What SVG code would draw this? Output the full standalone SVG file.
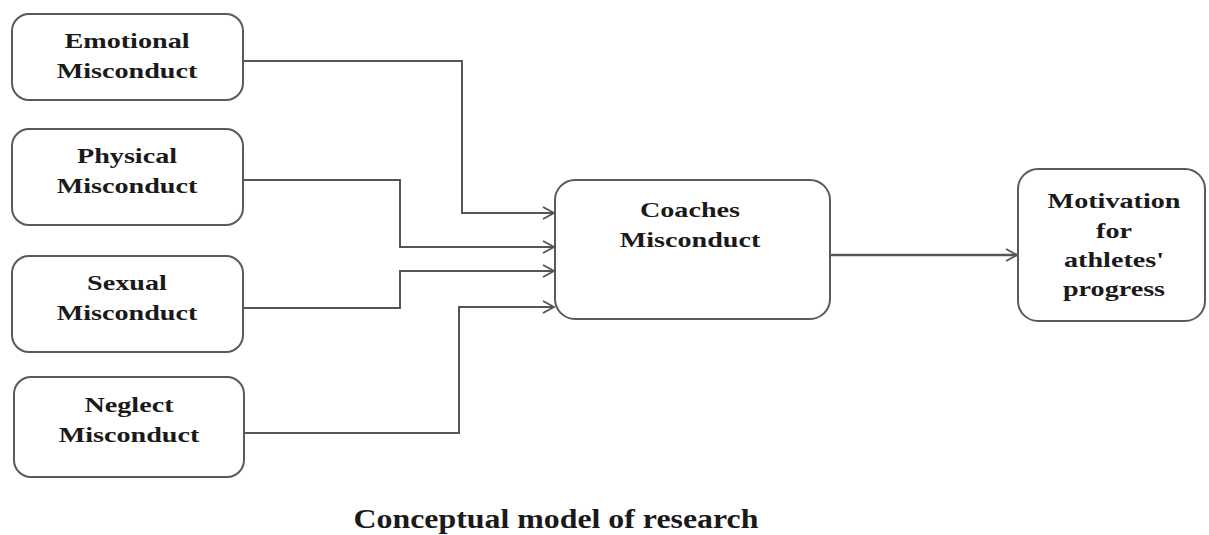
<svg xmlns="http://www.w3.org/2000/svg" width="1209" height="535" viewBox="0 0 1209 535">
<style>
.box{fill:#fff;stroke:#5a5a5a;stroke-width:2}
.lbl{font-family:"Liberation Serif","Times New Roman",serif;font-weight:bold;font-size:22px;fill:#1a1a1a;text-anchor:middle}
.title{font-family:"Liberation Serif","Times New Roman",serif;font-weight:bold;font-size:27px;fill:#1a1a1a;text-anchor:middle}
.con{fill:none;stroke:#555;stroke-width:2}
</style>
<defs>
<marker id="arr" markerWidth="14" markerHeight="14" refX="12" refY="7" orient="auto" markerUnits="userSpaceOnUse">
<path d="M1,1 L12,7 L1,13" fill="none" stroke="#555" stroke-width="1.8"/>
</marker>
</defs>
<rect width="1209" height="535" fill="#fff"/>
<g id="connectors">
<path class="con" d="M243,61 H462 V213 H554" marker-end="url(#arr)"/>
<path class="con" d="M243,180 H400 V247 H554" marker-end="url(#arr)"/>
<path class="con" d="M243,308 H400 V271 H554" marker-end="url(#arr)"/>
<path class="con" d="M244,433 H459 V307 H554" marker-end="url(#arr)"/>
<path class="con" d="M830,255 H1017" marker-end="url(#arr)" style="stroke-width:2.6"/>
</g>
<g id="emotional">
<rect class="box" x="12" y="14" width="231" height="86" rx="17"/>
<text class="lbl" transform="translate(127,48) scale(1.28,1)">Emotional</text>
<text class="lbl" transform="translate(127,78) scale(1.28,1)">Misconduct</text>
</g>
<g id="physical">
<rect class="box" x="12" y="129" width="231" height="96" rx="17"/>
<text class="lbl" transform="translate(127,163) scale(1.28,1)">Physical</text>
<text class="lbl" transform="translate(127,193) scale(1.28,1)">Misconduct</text>
</g>
<g id="sexual">
<rect class="box" x="12" y="256" width="231" height="96" rx="17"/>
<text class="lbl" transform="translate(127,290) scale(1.28,1)">Sexual</text>
<text class="lbl" transform="translate(127,320) scale(1.28,1)">Misconduct</text>
</g>
<g id="neglect">
<rect class="box" x="14" y="377" width="230" height="100" rx="17"/>
<text class="lbl" transform="translate(129,412) scale(1.28,1)">Neglect</text>
<text class="lbl" transform="translate(129,442) scale(1.28,1)">Misconduct</text>
</g>
<g id="coaches">
<rect class="box" x="555" y="180" width="275" height="139" rx="20"/>
<text class="lbl" transform="translate(690,217) scale(1.28,1)">Coaches</text>
<text class="lbl" transform="translate(690,247) scale(1.28,1)">Misconduct</text>
</g>
<g id="motivation">
<rect class="box" x="1018" y="169" width="187" height="152" rx="20"/>
<text class="lbl" transform="translate(1114,208) scale(1.28,1)">Motivation</text>
<text class="lbl" transform="translate(1114,238) scale(1.28,1)">for</text>
<text class="lbl" transform="translate(1114,267) scale(1.28,1)">athletes'</text>
<text class="lbl" transform="translate(1114,296) scale(1.28,1)">progress</text>
</g>
<text class="title" transform="translate(556,528) scale(1.18,1)">Conceptual model of research</text>
</svg>
